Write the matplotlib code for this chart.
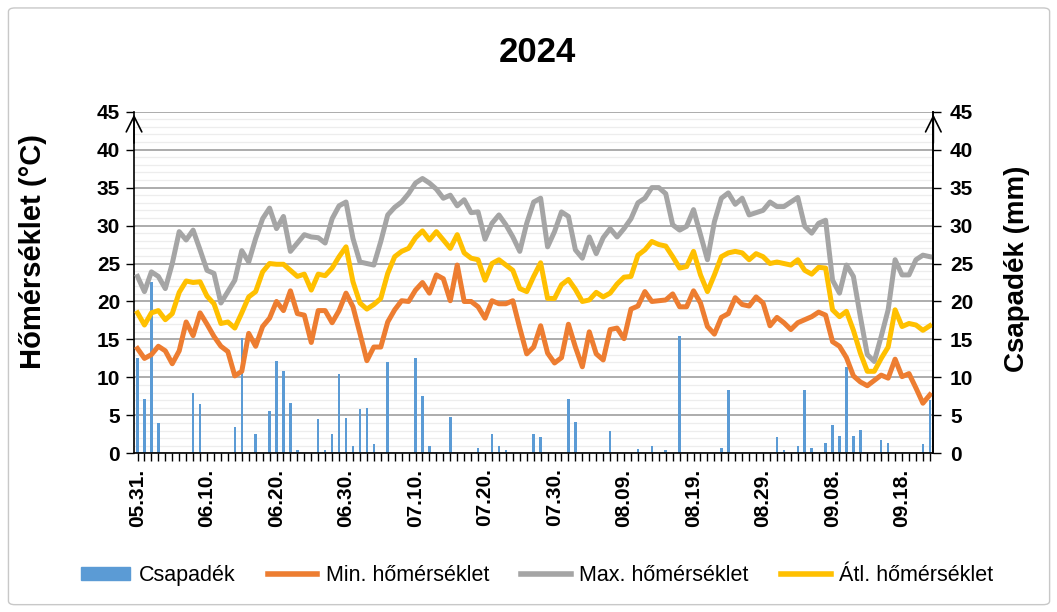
import numpy as np
import pandas as pd
import matplotlib
matplotlib.use("Agg")
import matplotlib.pyplot as plt
from matplotlib.patches import FancyBboxPatch, Patch
from matplotlib.lines import Line2D
from matplotlib.ticker import MultipleLocator

plt.rcParams['font.family'] = ['Liberation Sans', 'DejaVu Sans']

# --- data: 2024.05.31 - 2024.09.22, daily ---
dates = pd.date_range("2024-05-31", periods=115, freq="D")
day_labels = [d.strftime("%m.%d.") for d in dates]

t_max = [23.3, 21.3, 23.9, 23.3, 21.7, 25.0, 29.2, 28.1, 29.4, 26.8,
         24.1, 23.7, 19.8, 21.3, 22.8, 26.7, 25.2, 28.3, 30.9, 32.3,
         29.6, 31.2, 26.6, 27.7, 28.8, 28.5, 28.4, 27.7, 30.9, 32.6,
         33.1, 28.3, 25.2, 25.0, 24.8, 27.9, 31.4, 32.4, 33.1, 34.2,
         35.6, 36.2, 35.6, 34.8, 33.6, 34.0, 32.6, 33.4, 31.7, 31.8,
         28.2, 30.3, 31.4, 30.1, 28.5, 26.6, 30.3, 33.1, 33.6, 27.2,
         29.2, 31.8, 31.2, 26.8, 25.7, 28.5, 26.3, 28.4, 29.6, 28.5,
         29.6, 30.9, 33.0, 33.6, 35.0, 35.0, 34.2, 30.1, 29.4, 29.9,
         32.1, 28.8, 25.5, 30.5, 33.6, 34.3, 32.8, 33.6, 31.4, 31.7,
         32.0, 33.1, 32.5, 32.5, 33.1, 33.7, 29.9, 29.0, 30.3, 30.7,
         22.8, 21.1, 24.8, 23.3, 18.0, 13.0, 12.1, 15.4, 18.9, 25.5,
         23.5, 23.5, 25.5, 26.1, 25.9]

t_avg = [18.5, 16.9, 18.5, 18.8, 17.6, 18.4, 21.2, 22.7, 22.5, 22.6,
         20.7, 19.7, 17.1, 17.3, 16.5, 18.5, 20.6, 21.3, 23.9, 25.0,
         24.9, 24.9, 24.1, 23.3, 23.6, 21.5, 23.6, 23.4, 24.4, 25.9,
         27.2, 22.6, 19.8, 19.0, 19.6, 20.4, 23.7, 25.9, 26.6, 27.0,
         28.4, 29.3, 28.1, 29.2, 28.1, 27.0, 28.8, 26.4, 25.7, 25.5,
         22.8, 25.0, 25.5, 24.8, 24.1, 21.7, 21.3, 23.3, 25.1, 20.4,
         20.4, 22.2, 22.9, 21.6, 20.0, 20.2, 21.2, 20.6, 21.1, 22.3,
         23.2, 23.3, 26.1, 26.8, 27.9, 27.5, 27.3, 25.9, 24.4, 24.6,
         26.6, 23.5, 21.3, 23.5, 25.9, 26.4, 26.6, 26.4, 25.5, 26.3,
         25.9, 25.0, 25.2, 25.0, 24.8, 25.5, 24.1, 23.6, 24.5, 24.4,
         18.9, 18.0, 18.7, 16.2, 13.2, 10.8, 10.8, 12.5, 14.0, 18.9,
         16.7, 17.1, 16.9, 16.2, 16.8]

t_min = [13.8, 12.5, 13.0, 14.1, 13.5, 11.8, 13.5, 17.3, 15.5, 18.5,
         17.0, 15.4, 14.1, 13.4, 10.2, 10.8, 15.8, 14.1, 16.7, 17.8,
         20.0, 18.8, 21.4, 18.4, 18.2, 14.6, 18.8, 18.8, 17.2, 18.8,
         21.1, 19.3, 15.8, 12.2, 14.0, 14.0, 17.3, 18.9, 20.1, 20.0,
         21.5, 22.5, 21.1, 23.5, 23.0, 20.1, 24.8, 20.0, 20.0, 19.3,
         17.8, 20.1, 19.7, 19.7, 20.1, 16.5, 13.1, 14.0, 16.8, 13.2,
         11.9, 12.6, 17.0, 14.0, 11.4, 16.0, 13.1, 12.3, 16.3, 16.5,
         15.1, 19.0, 19.4, 21.3, 20.0, 20.1, 20.2, 21.0, 19.3, 19.3,
         21.4, 19.8, 16.7, 15.7, 17.9, 18.4, 20.5, 19.6, 19.4, 20.6,
         19.8, 16.8, 17.9, 17.2, 16.3, 17.2, 17.6, 18.0, 18.6, 18.2,
         14.7, 14.1, 12.6, 10.2, 9.4, 8.9, 9.6, 10.3, 9.9, 12.4,
         10.1, 10.5, 8.6, 6.6, 7.7]

# precipitation (mm), only the rainy days
rain_day = [0, 1, 2, 3, 8, 9, 11, 14, 15, 17, 19, 20, 21, 22, 23, 26, 27,
            28, 29, 30, 31, 32, 33, 34, 36, 40, 41, 42, 43, 45, 49, 51, 52,
            53, 57, 58, 62, 63, 68, 72, 74, 76, 78, 81, 84, 85, 92, 93, 95,
            96, 97, 99, 100, 101, 102, 103, 104, 107, 108, 113, 114]
rain_mm = [12.5, 7.1, 22.6, 4.0, 7.9, 6.5, 0.2, 3.4, 15.2, 2.5, 5.6, 12.2,
           10.8, 6.6, 0.4, 4.5, 0.5, 2.5, 10.4, 4.7, 0.9, 5.8, 6.0, 1.2,
           12.0, 12.6, 7.6, 0.9, 0.2, 4.8, 0.7, 2.6, 0.9, 0.4, 2.6, 2.2,
           7.2, 4.1, 2.9, 0.6, 0.9, 0.4, 15.5, 0.1, 0.7, 8.3, 2.2, 0.4,
           0.9, 8.4, 0.7, 1.3, 3.7, 2.3, 11.4, 2.3, 3.1, 1.8, 1.4, 1.2, 7.0]

precip = np.zeros(len(dates))
precip[rain_day] = rain_mm

c_bar = '#5B9BD5'
c_min = '#ED7D31'
c_max = '#A5A5A5'
c_avg = '#FFC000'

fig = plt.figure(figsize=(10.57, 6.12), dpi=100)
fig.patches.append(FancyBboxPatch((0.008, 0.012), 0.985, 0.975, boxstyle="round,pad=0,rounding_size=0.006",
                                  transform=fig.transFigure, fill=False, ec='#c8c8c8', lw=1.0))

ax = fig.add_axes([0.1268, 0.2593, 0.7562, 0.5582])
x = np.arange(len(dates))

ax.bar(x, precip, width=0.36, color=c_bar, zorder=2)
ax.plot(x, t_min, color=c_min, lw=3.6, zorder=3, solid_joinstyle='round')
ax.plot(x, t_max, color=c_max, lw=3.6, zorder=3, solid_joinstyle='round')
ax.plot(x, t_avg, color=c_avg, lw=3.6, zorder=3, solid_joinstyle='round')

ax.set_xlim(-0.5, len(dates) - 0.5)
ax.set_ylim(0, 45)
ax.yaxis.set_major_locator(MultipleLocator(5))
ax.yaxis.set_minor_locator(MultipleLocator(1))
ax.grid(which='major', axis='y', color='#a6a6a6', lw=1.3, zorder=0)
ax.grid(which='minor', axis='y', color='#ededed', lw=0.9, zorder=0)
ax.set_axisbelow(True)

ax.set_xticks(x, minor=True)
ax.set_xticks(x[::10])
ax.set_xticklabels(day_labels[::10], rotation=90, fontsize=15, fontweight='bold')
ax.tick_params(axis='x', which='both', length=6, width=1.0, color='black', pad=5)
ax.tick_params(axis='y', which='major', length=6, width=1.0, labelsize=15, pad=4)
ax.tick_params(axis='y', which='minor', length=0)
for t in ax.get_yticklabels():
    t.set_fontweight('bold')

ax.spines['top'].set_visible(False)
for s in ['left', 'right', 'bottom']:
    ax.spines[s].set_color('black')
    ax.spines[s].set_linewidth(1.2)

# right axis only mirrors the left scale
ax2 = ax.twinx()
ax2.set_ylim(0, 45)
ax2.yaxis.set_major_locator(MultipleLocator(5))
ax2.tick_params(axis='y', length=6, width=1.0, labelsize=15, pad=6)
for t in ax2.get_yticklabels():
    t.set_fontweight('bold')
for s in ['top', 'left', 'bottom']:
    ax2.spines[s].set_visible(False)
ax2.spines['right'].set_linewidth(1.2)

# arrow heads at the top of both y axes
for xa in (0, 1):
    ax.annotate('', xy=(xa, 1.0), xytext=(xa, 0.9), xycoords='axes fraction',
                arrowprops=dict(arrowstyle='->', lw=1.2, color='black', mutation_scale=28))

ax.set_ylabel('Hőmérséklet (°C)', fontsize=21, fontweight='bold')
ax.yaxis.set_label_coords(-0.109, 0.59)
ax2.set_ylabel('Csapadék (mm)', fontsize=20, fontweight='bold')
ax2.yaxis.set_label_coords(1.088, 0.54)

fig.text(0.508, 0.915, '2024', ha='center', va='center', fontsize=25, fontweight='bold')

handles = [Patch(color=c_bar),
           Line2D([], [], color=c_min, lw=4),
           Line2D([], [], color=c_max, lw=4),
           Line2D([], [], color=c_avg, lw=4)]
labels = ['Csapadék', 'Min. hőmérséklet', 'Max. hőmérséklet', 'Átl. hőmérséklet']
fig.legend(handles, labels, loc='center', bbox_to_anchor=(0.508, 0.06), ncol=4, frameon=False,
           fontsize=15.5, handlelength=2.3, handleheight=0.55, handletextpad=0.4, columnspacing=1.5)

fig.savefig('out.png', dpi=100)
